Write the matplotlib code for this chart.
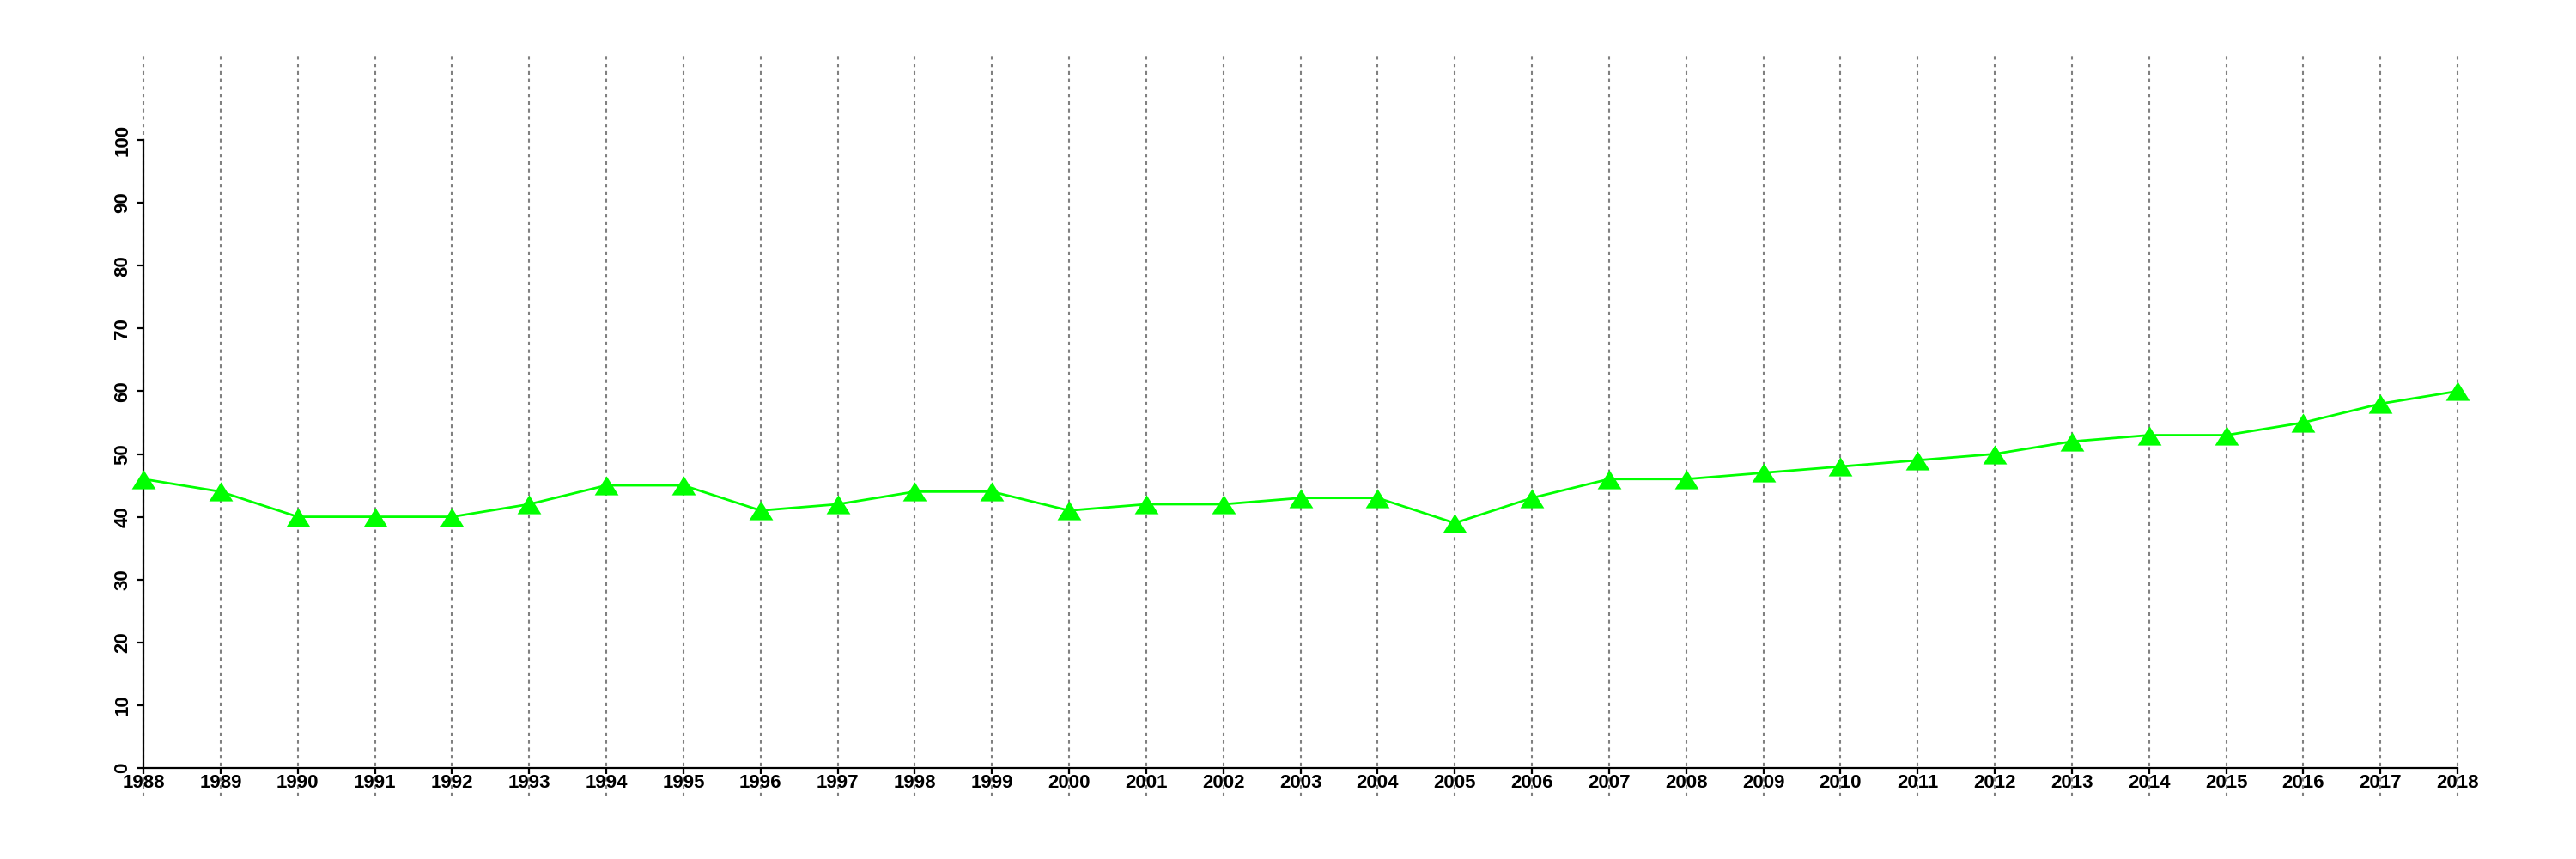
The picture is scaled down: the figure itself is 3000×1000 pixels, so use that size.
import numpy as np
import matplotlib
matplotlib.use('Agg')
import matplotlib.pyplot as plt

years = list(range(1988, 2019))
values = [46, 44, 40, 40, 40, 42, 45, 45, 41, 42, 44, 44, 41, 42, 42, 43,
          43, 39, 43, 46, 46, 47, 48, 49, 50, 52, 53, 53, 55, 58, 60]
y_ticks = list(range(0, 101, 10))

plt.rcParams['font.family'] = ['Liberation Sans', 'DejaVu Sans']

# slightly squat triangle, closer to the R pch=17 glyph
tri = [(-1, -0.8), (1, -0.8), (0, 0.8), (-1, -0.8)]

fig = plt.figure(figsize=(30, 10), dpi=100)
ax = fig.add_axes([0.0557, 0.106, 0.954 - 0.0557, 0.837 - 0.106])

# dotted year lines, running past the plot box like the original
for yr in years:
    ax.plot([yr, yr], [-4.5, 114], color='#808080', lw=1.5,
            linestyle=(0, (2, 2.2)), clip_on=False, zorder=1)

ax.plot(years, values, color='#00ff00', lw=2.0, marker=tri, ms=20,
        markeredgewidth=0, zorder=3, clip_on=False)

ax.set_xlim(1988, 2018)
ax.set_ylim(0, 100)
ax.set_xticks(years)
ax.set_xticklabels([str(y) for y in years], fontsize=16, fontweight='bold')
ax.set_yticks(y_ticks)
ax.set_yticklabels([str(v) for v in y_ticks], fontsize=16, fontweight='bold',
                   rotation=90, va='center')

for side in ['top', 'right']:
    ax.spines[side].set_visible(False)
for side in ['left', 'bottom']:
    ax.spines[side].set_linewidth(1.6)
ax.tick_params(axis='both', length=5, width=1.6, direction='out')
ax.tick_params(axis='x', pad=0)
ax.tick_params(axis='y', pad=5)

plt.savefig('out.png', dpi=100)
